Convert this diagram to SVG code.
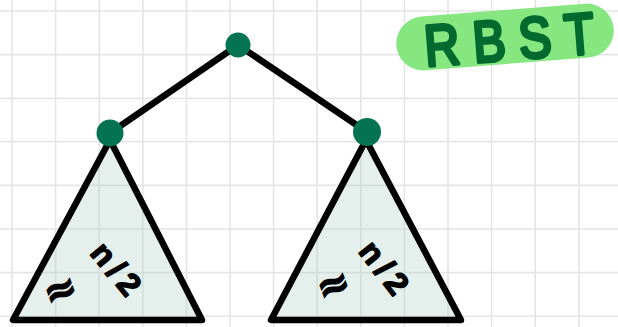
<svg xmlns="http://www.w3.org/2000/svg" width="618" height="327" viewBox="0 0 618 327">
  <style>
    .grid line { stroke: #e5e5e5; stroke-width: 1.6; }
    .edge { stroke: #000; stroke-width: 6.5; stroke-linecap: round; fill: none; }
    .tri { fill: #a8cbbd; fill-opacity: 0.3; stroke: #000; stroke-width: 6.5; stroke-linejoin: round; }
    .node { fill: #037352; }
    .lbl { font-family: "Liberation Sans", Arial, sans-serif; font-weight: bold; font-size: 32px; fill: #000; stroke: #000; stroke-width: 1.6; stroke-linejoin: round; }
    .approx { font-family: "DejaVu Sans", sans-serif; font-weight: bold; font-size: 40px; fill: #000; stroke: #000; stroke-width: 1.2; }
    .title { font-family: "Liberation Sans", Arial, sans-serif; font-size: 58px; fill: #00692e; stroke: #00692e; stroke-width: 3.8; stroke-linejoin: round; }
  </style>
  <rect width="618" height="327" fill="#ffffff"/>
  <g class="grid">
    <line x1="12" y1="0" x2="12" y2="327"/>
    <line x1="55.6" y1="0" x2="55.6" y2="327"/>
    <line x1="99.2" y1="0" x2="99.2" y2="327"/>
    <line x1="142.8" y1="0" x2="142.8" y2="327"/>
    <line x1="186.4" y1="0" x2="186.4" y2="327"/>
    <line x1="230" y1="0" x2="230" y2="327"/>
    <line x1="273.6" y1="0" x2="273.6" y2="327"/>
    <line x1="317.2" y1="0" x2="317.2" y2="327"/>
    <line x1="360.8" y1="0" x2="360.8" y2="327"/>
    <line x1="404.4" y1="0" x2="404.4" y2="327"/>
    <line x1="448" y1="0" x2="448" y2="327"/>
    <line x1="491.6" y1="0" x2="491.6" y2="327"/>
    <line x1="535.2" y1="0" x2="535.2" y2="327"/>
    <line x1="578.8" y1="0" x2="578.8" y2="327"/>
    <line x1="0" y1="11" x2="618" y2="11"/>
    <line x1="0" y1="54.6" x2="618" y2="54.6"/>
    <line x1="0" y1="98.2" x2="618" y2="98.2"/>
    <line x1="0" y1="141.8" x2="618" y2="141.8"/>
    <line x1="0" y1="185.4" x2="618" y2="185.4"/>
    <line x1="0" y1="229" x2="618" y2="229"/>
    <line x1="0" y1="272.6" x2="618" y2="272.6"/>
    <line x1="0" y1="316.2" x2="618" y2="316.2"/>
  </g>

  <g id="title">
    <rect x="396" y="10" width="218" height="54" rx="27" fill="#86e680" transform="rotate(-4.5 505 37)"/>
    <text class="title" x="0" y="0" letter-spacing="16" transform="rotate(-4.5 505 37) translate(424 60) scale(0.84 1)">RBST</text>
  </g>

  <g id="connectors">
    <line class="edge" x1="238" y1="45" x2="110" y2="133"/>
    <line class="edge" x1="238" y1="45" x2="367" y2="132"/>
  </g>

  <g id="subtree-left">
    <polygon class="tri" points="110,140 13,320 202,320"/>
    <text class="approx" x="60" y="289" text-anchor="middle" dominant-baseline="central" transform="rotate(-20 60 289)">≈</text>
    <text class="lbl" x="118" y="271" text-anchor="middle" dominant-baseline="central" letter-spacing="6" transform="rotate(50 118 271)">n/2</text>
  </g>

  <g id="subtree-right">
    <polygon class="tri" points="366,140 271,320 461,320"/>
    <text class="approx" x="333" y="284" text-anchor="middle" dominant-baseline="central" transform="rotate(-20 333 284)">≈</text>
    <text class="lbl" x="386" y="270" text-anchor="middle" dominant-baseline="central" letter-spacing="6" transform="rotate(52 386 270)">n/2</text>
  </g>

  <g id="node-root"><circle class="node" cx="238" cy="45" r="12.5"/></g>
  <g id="node-left"><circle class="node" cx="110" cy="133" r="13.5"/></g>
  <g id="node-right"><circle class="node" cx="367" cy="132" r="14"/></g>
</svg>
